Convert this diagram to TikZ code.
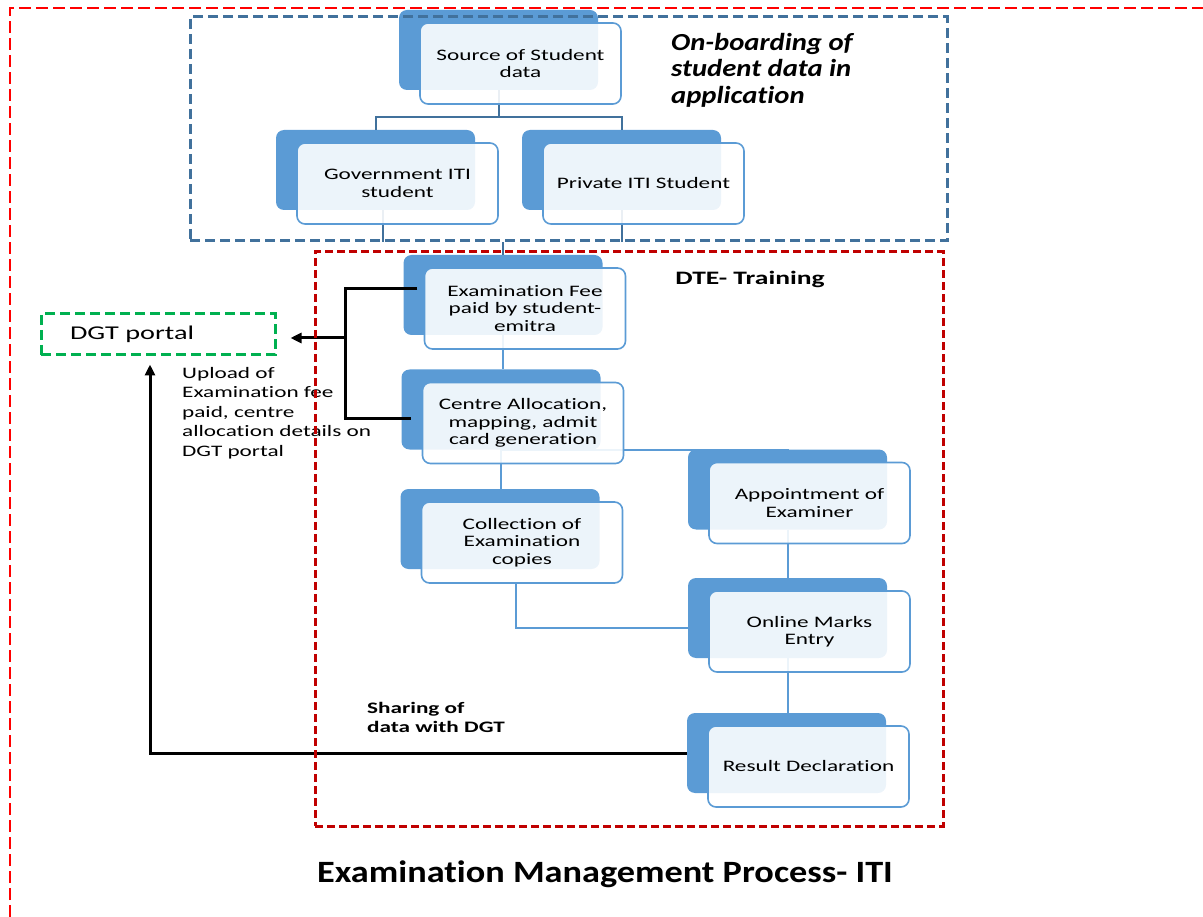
\documentclass[tikz,border=0pt]{standalone}
\usepackage{fontspec}
\setmainfont[Ligatures=NoCommon]{Carlito}
\newfontfamily\wfont[FakeStretch=1.45,Ligatures=NoCommon]{Carlito}
\newfontfamily\nfont[FakeStretch=1.17,Ligatures=NoCommon]{Carlito}
\usepackage{xcolor}
\usepackage{tikz}
\usetikzlibrary{positioning,arrows.meta,backgrounds,calc}
\pgfdeclarelayer{frames}
\pgfsetlayers{background,main,frames}
\definecolor{cardblue}{RGB}{91,155,213}
\definecolor{treeblue}{RGB}{65,113,156}
\definecolor{dtered}{RGB}{192,0,0}
\definecolor{pagered}{RGB}{255,0,0}
\definecolor{portalgreen}{RGB}{0,176,80}

\begin{document}
\begin{tikzpicture}[
  x=1pt, y=-1pt,
  card/.style={draw=cardblue, line width=1.6pt, rounded corners=8pt, fill=white, fill opacity=0.89, text opacity=1,
    minimum width=201pt, minimum height=81pt, align=center, inner sep=2pt, font=\wfont\fontsize{16}{17.5}\selectfont},
  cardbg/.style={fill=cardblue, rounded corners=8pt, minimum width=199pt, minimum height=80pt, inner sep=0pt},
  tree/.style={draw=treeblue, line width=2pt},
  link/.style={draw=cardblue, line width=2pt},
  feed/.style={line width=3pt},
  feedarr/.style={line width=3pt, -{Triangle[length=11pt,width=10pt]}},
  onbframe/.style={draw=treeblue, line width=3pt, dash pattern=on 10pt off 5pt, inner sep=0pt},
  dteframe/.style={draw=dtered, line width=3pt, dash pattern=on 8pt off 4pt, inner sep=0pt},
  portal/.style={draw=portalgreen, line width=3pt, dash pattern=on 10pt off 5pt, minimum height=41pt,
    text width=176pt, inner xsep=29pt, align=left, font=\wfont\fontsize{19.5}{22}\selectfont},
  pageframe/.style={draw=pagered, line width=2pt, dash pattern=on 12pt off 5pt},
  note/.style={align=left, anchor=north west, inner sep=0pt, font=\wfont\fontsize{16}{19.5}\selectfont}
]
\useasboundingbox (0,0) rectangle (1203,917);

% Karten (vorne)
\node[card] (src) at (520.5,63.5)  {Source of Student\\data};
\node[card] (gov) at (397.5,183.5) {Government ITI\\student};
\node[card] (pvt) at (643.5,183.5) {Private ITI Student};
\node[card] (fee) at (525,308.5)   {Examination Fee\\paid by student-\\emitra};
\node[card] (cen) at (523,423)     {Centre Allocation,\\mapping, admit\\card generation};
\node[card] (col) at (522,542.5)   {Collection of\\Examination\\copies};
\node[card] (apt) at (809.5,503)   {Appointment of\\Examiner};
\node[card] (onl) at (809.5,631.5) {Online Marks\\Entry};
\node[card] (res) at (808.5,766.5) {Result Declaration};

\node[portal] (dgt) at (158,334.5) {DGT portal};

% Rahmen
\begin{pgfonlayer}{frames}
  \draw[pageframe] (10,917) -- (10,8) -- (1203,8);
  \node[onbframe, minimum width=757pt, minimum height=224pt] (onb) at (568.5,129) {};
  \node[dteframe, minimum width=628pt, minimum height=574pt] (dte) at (629,539) {};
\end{pgfonlayer}

\begin{scope}[on background layer]
  \foreach \n in {src,gov,pvt,fee,cen,col,apt,onl,res}
    \node[cardbg] (\n-b) at ($(\n)+(-22,-13.5)$) {};
  % Baum oben
  \draw[tree] (src-b.south) -- ++(0,27) coordinate (split);
  \draw[tree] (gov-b.north) |- (split) -| (pvt-b.north);
  \draw[tree] ($(gov-b.south)+(7.5,0)$) -- ($(gov-b.south |- onb.south)+(7.5,0)$);
  \draw[tree] (pvt-b.south) -- (pvt-b.south |- onb.south);
  \draw[tree] (fee-b.north |- onb.south) -- (fee-b.north);
  % Ablauf
  \draw[link] (fee-b.south) -- (fee-b.south |- cen-b.north);
  \draw[link] (cen-b.south) -- (cen-b.south |- col-b.north);
  \draw[link] (cen-b.south) -| (apt-b.north);
  \draw[link] (apt-b.south) -- (onl-b.north);
  \draw[link] ($(col.south)+(-6,0)$) |- ($(onl-b.west)+(0,9.5)$);
  \draw[link] (onl-b.south) -- (onl-b.south |- res-b.north);
\end{scope}

% Meldung an DGT
\coordinate (jn) at (345,338);
\draw[feed] ($(fee-b.west)+(14,-6)$) -| (jn) |- ($(cen-b.west)+(10,9.5)$);
\draw[feedarr] (jn) -- ($(dgt.east)+(14,3.5)$);
\draw[feedarr] (res-b.west) -| ($(dgt.south)+(-8,8)$);

% Beschriftungen
\node[note, font=\nfont\bfseries\itshape\fontsize{24.5}{26.5}\selectfont] (onbtxt) at (671,33) {On-boarding of\\student data in\\application};
\node[font=\wfont\bfseries\fontsize{19}{22}\selectfont] (dtetxt) at (750,279) {DTE- Training};
\node[note] (uptxt) at (182,367) {Upload of\\Examination fee\\paid, centre\\allocation details on\\DGT portal};
\node[note, font=\wfont\bfseries\fontsize{16}{19}\selectfont] (shtxt) at (367,702) {Sharing of\\data with DGT};
\node[font=\nfont\bfseries\fontsize{31}{34}\selectfont] (title) at (605,874) {Examination Management Process- ITI};
\end{tikzpicture}
\end{document}
